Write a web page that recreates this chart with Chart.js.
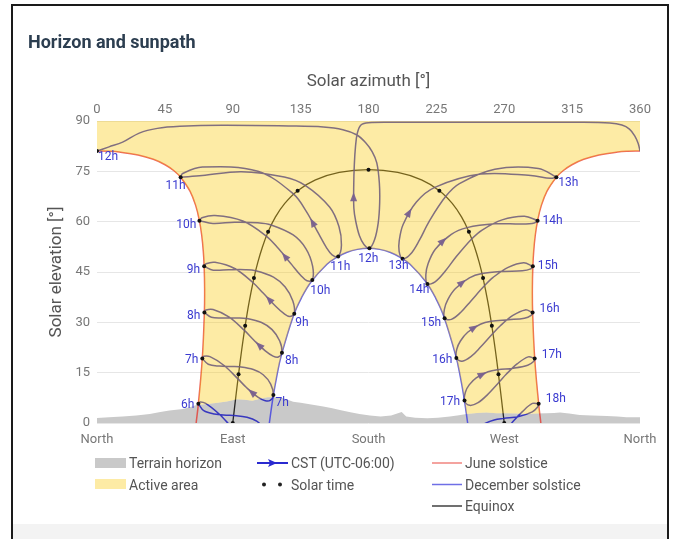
<!DOCTYPE html>
<html>
<head>
<meta charset="utf-8">
<script src="https://cdn.jsdelivr.net/npm/chart.js@4.4.1/dist/chart.umd.min.js"></script>
<style>
  html, body { margin: 0; padding: 0; background: #fff; }
  body { width: 675px; height: 539px; position: relative; overflow: hidden; font-family: Roboto, "Noto Sans", sans-serif; }
  #card { position: absolute; left: 11px; top: 4px; width: 658px; height: 540px; border: 2px solid #1a1a1a; border-bottom: none; box-sizing: border-box; }
  #foot { position: absolute; left: 13px; width: 654px; top: 524px; height: 15px; background: #f3f3f3; }
  #title { position: absolute; left: 28px; top: 31px; font-weight: 700; font-size: 18px; color: #2c3e50; }
  #chart { position: absolute; left: 0; top: 0; }
  #marks { position: absolute; left: 0; top: 0; }
  .lg { position: absolute; font-size: 14px; color: #555; line-height: 16px; white-space: nowrap; }
</style>
</head>
<body>
<div id="card"></div>
<div id="foot"></div>
<canvas id="chart" width="675" height="450"></canvas>
<div id="title">Horizon and sunpath</div>

<svg id="marks" width="675" height="539">
  <rect x="95" y="458" width="31" height="10" fill="#c9c9c9"/>
  <rect x="95" y="479" width="31" height="10" fill="#fdeba5"/>
  <line x1="257" y1="463" x2="288" y2="463" stroke="#2a2ad0" stroke-width="2"/>
  <path d="M277 463 L268 459 L270 463 L268 467 Z" fill="#2a2ad0"/>
  <circle cx="264" cy="484.5" r="2" fill="#222"/>
  <circle cx="280" cy="484.5" r="2" fill="#222"/>
  <line x1="432" y1="463" x2="462" y2="463" stroke="rgba(230,50,40,0.6)" stroke-width="1.5"/>
  <line x1="432" y1="484.5" x2="462" y2="484.5" stroke="rgba(50,50,220,0.7)" stroke-width="1.5"/>
  <line x1="432" y1="506" x2="462" y2="506" stroke="rgba(0,0,0,0.75)" stroke-width="1.5"/>
</svg>
<div class="lg" style="left:129px;top:455px;">Terrain horizon</div>
<div class="lg" style="left:129px;top:476.5px;">Active area</div>
<div class="lg" style="left:291px;top:455px;">CST (UTC-06:00)</div>
<div class="lg" style="left:291px;top:476.5px;">Solar time</div>
<div class="lg" style="left:465px;top:455px;">June solstice</div>
<div class="lg" style="left:465px;top:476.5px;">December solstice</div>
<div class="lg" style="left:465px;top:498px;">Equinox</div>

<script>
// ---- data: [azimuth °, elevation °] ----
const compassLabels = ['North', 'East', 'South', 'West', 'North'];

const terrainHorizon = [
  [0,1.5],[8,1.7],[17,1.9],[26,2.2],[35,2.7],[42,3.3],[48,3.7],[57,4.2],[62,4.8],[66,5.4],
  [72,5.6],[80,6.0],[86,6.4],[93,7.1],[98,6.9],[103,6.6],[108,7.2],[113,7.7],[121,7.7],[126,7.0],
  [130,6.3],[135,6.0],[139,5.7],[145,5.3],[150,4.9],[156,4.4],[161,3.9],[168,3.2],[174,2.7],[181,2.2],
  [188,1.9],[195,2.2],[199,2.8],[202,3.3],[205,1.9],[211,1.6],[219,1.4],[226,1.6],[234,1.9],[240,2.3],
  [245,2.7],[252,3.0],[258,3.1],[265,2.9],[272,2.9],[278,2.8],[285,2.7],[291,2.8],[298,2.9],[303,3.0],
  [307,3.1],[313,2.8],[320,2.4],[328,2.2],[338,2.1],[345,1.9],[351,1.7],[356,1.7],[360,1.7]
];

const juneSolstice = [
  [65.74,0],[67.2,5.72],[69.82,19.24],[71.2,32.94],[71.37,39.82],[71.05,46.69],[70.47,51.26],[69.48,55.81],
  [67.9,60.3],[65.46,64.78],[61.66,69.1],[55.45,73.24],[51.04,75.18],[45.18,76.97],[37.36,78.58],[27.3,79.87],
  [14.85,80.74],[8.03,80.97],[0,81.06],
  [360,81.06],[351.97,80.97],[345.15,80.74],[332.7,79.87],[322.64,78.58],[314.82,76.97],[308.96,75.18],[304.55,73.24],
  [298.34,69.1],[294.54,64.78],[292.1,60.3],[290.52,55.81],[289.53,51.26],[288.95,46.69],[288.63,39.82],[288.8,32.94],
  [290.18,19.24],[292.8,5.72],[294.26,0]
];

const decemberSolstice = [
  [114.26,0],[116.64,7.49],[119.17,13.9],[122.19,20.15],[130.16,31.9],[135.46,37.24],[141.86,42.03],[152.43,47.31],
  [158.62,49.31],[165.37,50.81],[172.57,51.74],[180,52.06],[187.43,51.74],[194.63,50.81],[201.38,49.31],[207.57,47.31],
  [218.14,42.03],[224.54,37.24],[229.84,31.9],[237.81,20.15],[240.83,13.9],[243.36,7.49],[245.74,0]
];

const equinox = [
  [90,0],[91.89,7.26],[93.84,14.51],[95.92,21.75],[98.23,28.95],[100.88,36.11],[104.05,43.2],[106.61,47.86],
  [109.68,52.47],[113.44,56.97],[118.24,61.34],[124.49,65.45],[133.02,69.24],[144.87,72.45],[160.6,74.67],[180,75.5],
  [199.4,74.67],[215.13,72.45],[226.98,69.24],[235.51,65.45],[241.76,61.34],[246.56,56.97],[250.32,52.47],[253.39,47.86],
  [255.95,43.2],[259.12,36.11],[261.77,28.95],[264.08,21.75],[266.16,14.51],[268.11,7.26],[270,0]
];

const solarTimeDots = [
  [90,0],[93.84,14.51],[98.23,28.95],[104.05,43.2],[113.44,56.97],[133.02,69.24],[180,75.5],
  [226.98,69.24],[246.56,56.97],[255.95,43.2],[261.77,28.95],[266.16,14.51],[270,0]
];

// analemma of each CST hour, Jun → Dec → Jun
const cstHours = [6,7,8,9,10,11,12,13,14,15,16,17,18];
const cst06 = [[67.2,5.72],[70.77,3.68],[77.77,2.69],[85.63,2.33],[90.6,2.25],[99.45,1.71],[105.87,0.54],[110.93,-1.78],[112.97,-4.87],[111.08,-6.65],[107.87,-7.05],[102.86,-6.33],[95.4,-3.92],[89.64,-1.38],[80.59,2.82],[72.05,5.85],[68.23,6.27],[67.2,5.72]];
const cst07 = [[69.82,19.24],[73.75,17.52],[81.11,16.96],[89.31,16.83],[94.48,16.75],[103.64,15.95],[110.18,14.39],[115.16,11.61],[116.94,8.31],[114.82,6.75],[111.6,6.65],[106.64,7.73],[99.25,10.5],[93.45,13.14],[84.05,17.2],[74.9,19.77],[70.82,19.89],[69.82,19.24]];
const cst08 = [[71.2,32.94],[75.84,31.51],[84.12,31.32],[93.29,31.32],[99.02,31.17],[109.09,29.95],[116.08,27.82],[121.15,24.45],[122.62,20.92],[120.17,19.65],[116.72,19.95],[111.58,21.5],[103.9,24.75],[97.75,27.59],[87.41,31.63],[76.95,33.82],[72.27,33.66],[71.2,32.94]];
const cst09 = [[71.05,46.69],[77.05,45.55],[87.23,45.67],[98.35,45.69],[105.23,45.37],[117.01,43.46],[124.76,40.52],[129.85,36.37],[130.78,32.59],[127.82,31.75],[124.01,32.58],[118.45,34.79],[110.15,38.72],[103.33,41.87],[91.24,46.04],[78.21,47.9],[72.29,47.48],[71.05,46.69]];
const cst10 = [[67.9,60.3],[76.88,59.48],[91.18,59.84],[106.33,59.69],[115.43,59.03],[130.07,56.03],[138.57,51.92],[142.97,46.7],[142.75,42.6],[139.23,42.39],[135.14,43.98],[129.24,47.12],[120.14,52.06],[112.22,55.71],[96.7,60.19],[78.2,61.82],[69.55,61.15],[67.9,60.3]];
const cst11 = [[55.45,73.24],[69.84,73.74],[95.78,74.91],[124.15,73.3],[138.0,70.82],[154.2,64.36],[160.4,58.55],[162.06,53.05],[159.9,49.65],[155.87,50.1],[152.11,52.26],[147.04,56.33],[138.85,62.98],[130.33,68.22],[106.64,75.02],[69.88,76.27],[56.76,74.35],[55.45,73.24]];
const cst12 = [[0,81.06],[8,82.3],[17,83.7],[28,86.4],[40,87.8],[55,88.4],[83,88.7],[128,88.5],[150,88.2],[163,87.4],[172,85.9],[178,83.6],[182.5,80.8],[185.5,77.5],[187.2,71.5],[187.4,65.5],[186.4,59.5],[184,54.6],[180.6,52.06],
               [177,53.2],[174,55.8],[171.5,60.2],[170.3,64],[170.2,70.5],[170.6,77],[171.4,82.5],[172.6,86.4],[175,88.8],[180,89.5],[200,89.6],[260,89.6],[320,89.6],[340,89.4],[348,88.8],[353,87.6],[356.5,85.6],[358.8,83.3],[360,81.06]];
const cst13 = [[304.55,73.24],[292.62,75.86],[263.75,75.63],[240.3,71.34],[231.25,67.55],[220.23,60.1],[213.85,54.56],[207.89,50.33],[202.59,48.97],[200.3,51.15],[200.37,54.35],[202.95,59.15],[211.77,65.86],[223.97,70.23],[254.46,74.18],[287.6,73.75],[300.67,72.93],[304.55,73.24]];
const cst14 = [[292.1,60.3],[283.38,61.63],[268.58,60.54],[255.33,57.51],[248.55,54.91],[238.11,49.53],[230.93,45.28],[224.15,42.06],[219.03,41.46],[218.01,44.17],[219.54,47.52],[224.28,51.76],[234.9,56.24],[245.34,58.23],[263.72,59.35],[281.64,59.3],[289.87,59.61],[292.1,60.3]];
const cst15 = [[288.95,46.69],[282.89,47.75],[272.59,46.39],[262.65,43.41],[257.13,41.03],[247.93,36.38],[241.22,33.0],[234.93,30.87],[230.46,31.21],[230.3,33.89],[232.51,36.7],[237.51,39.99],[246.89,43.23],[255.23,44.53],[269.04,45.18],[281.93,45.34],[287.57,45.92],[288.95,46.69]];
const cst16 = [[288.8,32.94],[283.92,33.71],[275.72,32.04],[267.41,29.0],[262.56,26.73],[254.13,22.55],[247.86,19.76],[242.07,18.41],[238.24,19.38],[238.55,22.01],[240.94,24.43],[245.76,27.04],[254.16,29.43],[261.29,30.31],[272.81,30.77],[283.37,31.24],[287.83,32.1],[288.8,32.94]];
const cst17 = [[290.18,19.24],[285.87,19.7],[278.73,17.68],[271.29,14.51],[266.8,12.27],[258.76,8.39],[252.66,6.05],[247.1,5.26],[243.66,6.67],[244.28,9.23],[246.76,11.35],[251.44,13.45],[259.27,15.26],[265.77,15.89],[276.15,16.34],[285.56,17.21],[289.42,18.34],[290.18,19.24]];
const cst18 = [[292.8,5.72],[288.69,5.83],[282.05,3.4],[274.97,0.02],[270.59,-2.25],[262.55,-5.95],[256.31,-7.96],[250.69,-8.32],[247.43,-6.57],[248.3,-4.09],[250.93,-2.23],[255.64,-0.51],[263.34,0.9],[269.63,1.38],[279.63,1.96],[288.59,3.33],[292.14,4.75],[292.8,5.72]];
const cstLoops = [cst06, cst07, cst08, cst09, cst10, cst11, cst12, cst13, cst14, cst15, cst16, cst17, cst18];

// position of the Dec 21 point and of the mid-February arrow inside each loop
const decemberIndex = cstHours.map(h => (h === 12 ? 18 : 8));
const arrowIndex = cstHours.map(h => (h === 12 ? 22 : 11));

// ---- styles ----
const ACTIVE = 'rgba(249,199,5,0.36)';   // translucent, laid over the paths
const TERRAIN = '#c9c9c9';
const JUNE = 'rgba(230,50,40,0.75)';
const DECEMBER = 'rgba(60,60,225,0.8)';
const EQUINOX = 'rgba(20,20,20,0.9)';
const CST = 'rgba(40,40,190,0.9)';
const ARROW = 'rgba(50,40,220,0.95)';
const LABEL = '#3a3ad0';

// [dx, dy, align] of the hour labels around their points
const labelOffsets = {
  june: {6:[-4,1,'right'],7:[-4,2,'right'],8:[-4,3.5,'right'],9:[-4,4,'right'],10:[-3,4,'right'],11:[5,9,'right'],12:[1,6,'left'],
         13:[2,6,'left'],14:[5,0,'left'],15:[5,0,'left'],16:[7,-3.5,'left'],17:[7,-3.5,'left'],18:[7,-5,'left']},
  december: {7:[2,8,'left'],8:[3,8,'left'],9:[1,9,'left'],10:[-2,11,'left'],11:[-8,11,'left'],12:[-1,11,'center'],
             13:[6,7,'right'],14:[2,6,'right'],15:[-3.5,5,'right'],16:[-4,2,'right'],17:[-4.5,1.5,'right']}
};

const toXY = arr => arr.map(([x, y]) => ({ x, y }));
function splitAtWrap(arr) {
  const parts = [[]];
  arr.forEach((p, i) => {
    if (i > 0 && Math.abs(p[0] - arr[i - 1][0]) > 180) parts.push([]);
    parts[parts.length - 1].push(p);
  });
  return parts;
}

// terrain lookup, used to cut the active area along the horizon
function terrainAt(a) {
  for (let i = 1; i < terrainHorizon.length; i++) {
    const [a0, e0] = terrainHorizon[i - 1], [a1, e1] = terrainHorizon[i];
    if (a <= a1) return e0 + (e1 - e0) * (a - a0) / (a1 - a0);
  }
  return terrainHorizon[terrainHorizon.length - 1][1];
}
function keepAboveTerrain(path) {
  const out = [];
  const isUp = p => p[1] >= terrainAt(p[0]);
  path.forEach((p, i) => {
    if (i > 0 && isUp(p) !== isUp(path[i - 1])) {
      const q = path[i - 1];
      let lo = 0, hi = 1;
      for (let k = 0; k < 24; k++) {
        const m = (lo + hi) / 2;
        const c = [q[0] + (p[0] - q[0]) * m, q[1] + (p[1] - q[1]) * m];
        if (isUp(c) === isUp(q)) lo = m; else hi = m;
      }
      out.push([q[0] + (p[0] - q[0]) * lo, q[1] + (p[1] - q[1]) * lo]);
    }
    if (isUp(p)) out.push(p);
  });
  return out;
}
const terrainBetween = (a0, a1) => terrainHorizon.filter(([a]) => a > a0 && a < a1);

const [juneMorning, juneAfternoon] = splitAtWrap(juneSolstice);
const edgeJuneAM = keepAboveTerrain(juneMorning.slice().reverse());
const edgeDecember = keepAboveTerrain(decemberSolstice);
const edgeJunePM = keepAboveTerrain(juneAfternoon.slice().reverse());
const activeArea = [
  [0, 90], ...edgeJuneAM,
  ...terrainBetween(edgeJuneAM[edgeJuneAM.length - 1][0], edgeDecember[0][0]),
  ...edgeDecember,
  ...terrainBetween(edgeDecember[edgeDecember.length - 1][0], edgeJunePM[0][0]),
  ...edgeJunePM, [360, 90]
];

const lineBase = { showLine: true, pointRadius: 0, pointHoverRadius: 0, fill: false };
const datasets = [
  { ...lineBase, label: 'Terrain horizon', data: toXY(terrainHorizon), fill: 'origin', backgroundColor: TERRAIN, borderWidth: 0, tension: 0, order: 30 },
  ...splitAtWrap(juneSolstice).map(seg => ({ ...lineBase, label: 'June solstice', data: toXY(seg), borderColor: JUNE, borderWidth: 1.5, tension: 0.4, order: 20 })),
  { ...lineBase, label: 'December solstice', data: toXY(decemberSolstice), borderColor: DECEMBER, borderWidth: 1.5, tension: 0.4, order: 20 },
  { ...lineBase, label: 'Equinox', data: toXY(equinox), borderColor: EQUINOX, borderWidth: 1.3, tension: 0.4, order: 19 },
  ...cstLoops.map((loop, i) => ({ ...lineBase, label: cstHours[i] + 'h', data: toXY(loop), borderColor: CST, borderWidth: 1.5, tension: 0.35, order: 15, arrowAt: arrowIndex[i] })),
  { ...lineBase, label: 'Active area', data: toXY(activeArea), fill: 'shape', backgroundColor: ACTIVE, borderWidth: 0, tension: 0, order: 10 },
  { label: 'Solar time', data: toXY(solarTimeDots), showLine: false, pointRadius: 2, pointHoverRadius: 2, backgroundColor: '#111', borderWidth: 0, order: 2 },
  { label: 'CST marks', data: toXY(cstLoops.flatMap((loop, i) => [loop[0], loop[decemberIndex[i]]])), showLine: false, pointRadius: 2, pointHoverRadius: 2, backgroundColor: '#111', borderWidth: 0, order: 1 }
];

// direction arrow on each analemma, drawn right after its own line
const arrowPlugin = {
  id: 'cstArrows',
  afterDatasetDraw(chart, args) {
    const ds = chart.data.datasets[args.index];
    if (ds.arrowAt === undefined) return;
    const { ctx, chartArea } = chart;
    const pts = args.meta.data;
    const a = pts[ds.arrowAt], b = pts[ds.arrowAt + 1];
    const c1x = a.cp2x ?? a.x, c1y = a.cp2y ?? a.y, c2x = b.cp1x ?? b.x, c2y = b.cp1y ?? b.y;
    const mx = (a.x + 3 * c1x + 3 * c2x + b.x) / 8, my = (a.y + 3 * c1y + 3 * c2y + b.y) / 8;
    let dx = b.x + c2x - c1x - a.x, dy = b.y + c2y - c1y - a.y;
    const len = Math.hypot(dx, dy) || 1; dx /= len; dy /= len;
    if (my > chartArea.bottom - 1 || my < chartArea.top) return;
    ctx.save();
    ctx.fillStyle = ARROW;
    ctx.beginPath();
    ctx.moveTo(mx + dx * 5, my + dy * 5);
    ctx.lineTo(mx - dx * 4 - dy * 3.5, my - dy * 4 + dx * 3.5);
    ctx.lineTo(mx - dx * 4 + dy * 3.5, my - dy * 4 - dx * 3.5);
    ctx.closePath();
    ctx.fill();
    ctx.restore();
  }
};

const hourLabelPlugin = {
  id: 'hourLabels',
  afterDatasetsDraw(chart) {
    const { ctx, scales: { x, y } } = chart;
    ctx.save();
    ctx.font = '12px Roboto';
    ctx.fillStyle = LABEL;
    ctx.textBaseline = 'middle';
    cstLoops.forEach((loop, i) => {
      const h = cstHours[i];
      [['june', loop[0]], ['december', loop[decemberIndex[i]]]].forEach(([side, p]) => {
        const st = labelOffsets[side][h];
        if (!st || p[1] < 0) return;
        ctx.textAlign = st[2];
        ctx.fillText(h + 'h', x.getPixelForValue(p[0]) + st[0], y.getPixelForValue(p[1]) + st[1]);
      });
    });
    ctx.restore();
  }
};

Chart.defaults.font.family = 'Roboto';
new Chart(document.getElementById('chart').getContext('2d'), {
  type: 'scatter',
  data: { datasets },
  options: {
    responsive: false,
    animation: false,
    devicePixelRatio: 1,
    events: [],
    layout: { padding: { left: 0, right: 35, top: 0, bottom: 0 } },
    plugins: { legend: { display: false }, tooltip: { enabled: false } },
    scales: {
      x: {
        type: 'linear', position: 'bottom', min: 0, max: 360,
        afterFit: s => { s.height = 27; },
        grid: { display: false, drawTicks: false }, border: { display: false },
        ticks: { stepSize: 90, padding: 9, color: '#777', font: { size: 13 }, maxRotation: 0,
                 callback: v => compassLabels[v / 90] }
      },
      xTop: {
        type: 'linear', position: 'top', min: 0, max: 360,
        afterFit: s => { s.height = 121; },
        grid: { display: false, drawTicks: false }, border: { display: false },
        ticks: { stepSize: 45, padding: 3, color: '#777', font: { size: 13 }, maxRotation: 0 },
        title: { display: true, text: 'Solar azimuth [°]', color: '#555', font: { size: 17 }, padding: { top: 72, bottom: 0 } }
      },
      y: {
        type: 'linear', position: 'left', min: 0, max: 90,
        afterFit: s => { s.width = 97; },
        grid: { color: '#e6e6e6', drawTicks: false }, border: { display: false },
        ticks: { stepSize: 15, padding: 7, color: '#777', font: { size: 13 } },
        title: { display: true, text: 'Solar elevation [°]', color: '#555', font: { size: 17 }, padding: { top: 47, bottom: 0 } }
      }
    }
  },
  plugins: [arrowPlugin, hourLabelPlugin]
});
</script>
</body>
</html>
